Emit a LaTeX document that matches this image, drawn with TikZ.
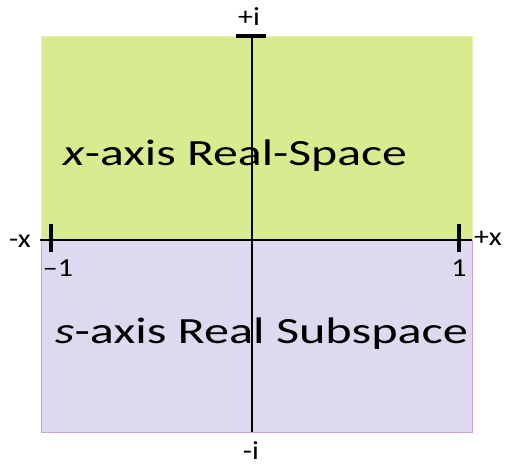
\documentclass[tikz,border=0pt]{standalone}
\usepackage{graphicx}
\usepackage{fontspec}
\setmainfont{Carlito}
\newcommand{\lblfont}{\fontsize{26}{28}\selectfont}
\newcommand{\bigfont}{\fontsize{37}{40}\selectfont}
\begin{document}
\begin{tikzpicture}[x=1pt,y=-1pt,
  axisline/.style={line width=2.6pt,black},
  tickline/.style={line width=3.2pt,black},
  lbl/.style={inner sep=0pt,anchor=base},
  big/.style={inner sep=0pt,anchor=base}]
\useasboundingbox (0,0) rectangle (508,465);
\fill[fill={rgb,255:red,216;green,235;blue,143},draw={rgb,255:red,226;green,240;blue,170},line width=0.8pt] (41,36) rectangle (472,240);
\fill[fill={rgb,255:red,222;green,217;blue,239},draw={rgb,255:red,200;green,165;blue,210},line width=0.8pt] (41,240) rectangle (472,432);
\node[big] (top) at (235,166) {\resizebox{344pt}{\height}{\bigfont\textit{x}-axis Real-Space}};
\node[big] (bot) at (261.5,343) {\resizebox{413pt}{\height}{\bigfont\textit{s}-axis Real Subspace}};
\coordinate (xl) at (40,240);
\coordinate (xr) at (472,240);
\coordinate (yt) at (252,36);
\coordinate (yb) at (252,432);
\draw[axisline] (xl) -- (xr);
\draw[axisline] (yt) -- (yb);
\coordinate (tl1) at (51,224);
\coordinate (tl2) at (51,252);
\coordinate (tr1) at (459,224);
\coordinate (tr2) at (459,252);
\coordinate (tt1) at (236,36);
\coordinate (tt2) at (266,36);
\draw[tickline] (tl1) -- (tl2);
\draw[tickline] (tr1) -- (tr2);
\draw[tickline] (tt1) -- (tt2);
\node[lbl] (mx) at (20,247) {\scalebox{1.15}[1]{\lblfont -x}};
\node[lbl] (px) at (488,245) {\scalebox{1.15}[1]{\lblfont +x}};
\node[lbl] (m1) at (58,276) {\scalebox{1.15}[1]{\lblfont –1}};
\node[lbl] (p1) at (459,276) {\scalebox{1.15}[1]{\lblfont 1}};
\node[lbl] (pi) at (249,26) {\scalebox{1.15}[1]{\lblfont +i}};
\node[lbl] (mi) at (251,459) {\scalebox{1.15}[1]{\lblfont -i}};
\end{tikzpicture}
\end{document}
